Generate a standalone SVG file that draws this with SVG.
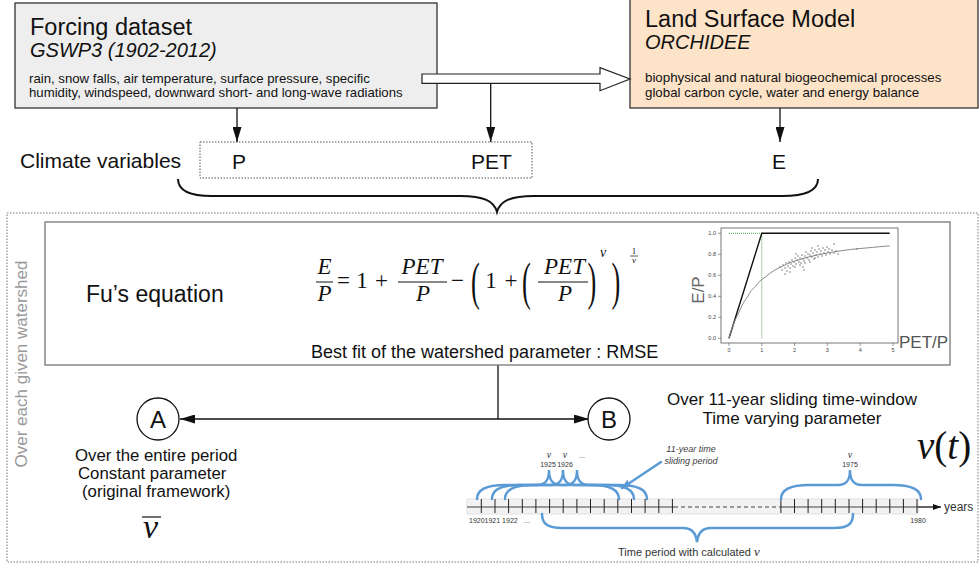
<svg xmlns="http://www.w3.org/2000/svg" width="980" height="565" viewBox="0 0 980 565">
<defs>
<style>
.sans{font-family:"Liberation Sans",Arial,sans-serif;fill:#111}
.serif{font-family:"Liberation Serif","Times New Roman",serif;fill:#111}
.it{font-style:italic}
.box{stroke:#333;stroke-width:1.3}
.blk{stroke:#111;stroke-width:1.3;fill:none}
.brace{stroke:#111;stroke-width:2;fill:none}
.blue{stroke:#5b9bd5;stroke-width:2.5;fill:none;stroke-linecap:round}
.tick{stroke:#222;stroke-width:1}
.tl{font-family:"Liberation Sans",Arial,sans-serif;font-size:7px;fill:#333}
.nu{font-family:"Liberation Serif","Times New Roman",serif;font-style:italic;font-size:10px;fill:#333}
.pl{font-family:"Liberation Sans",Arial,sans-serif;font-size:5.5px;fill:#444}
.dot{fill:#777}
.m{font-family:"Liberation Serif","Times New Roman",serif;font-style:italic;font-size:23px;fill:#111}
.mr{font-family:"Liberation Serif","Times New Roman",serif;font-size:23px;fill:#111}
.par{font-family:"Liberation Serif","Times New Roman",serif;font-size:48px;fill:#111}
</style>
<marker id="ah" viewBox="0 0 15 9" refX="15" refY="4.5" markerWidth="15" markerHeight="9" markerUnits="userSpaceOnUse" orient="auto-start-reverse"><path d="M0,0L15,4.5L0,9z" fill="#111"/></marker>
<marker id="bah" viewBox="0 0 10 8" refX="9" refY="4" markerWidth="10" markerHeight="8" markerUnits="userSpaceOnUse" orient="auto"><path d="M0,0L10,4L0,8z" fill="#5b9bd5"/></marker>
<marker id="tah" viewBox="0 0 8 6" refX="8" refY="3" markerWidth="8" markerHeight="6" markerUnits="userSpaceOnUse" orient="auto"><path d="M0,0L8,3L0,6z" fill="#111"/></marker>
</defs>
<rect x="0" y="0" width="980" height="565" fill="#fff"/>

<!-- outer dotted frame -->
<rect id="watershed-frame" x="7" y="213" width="971" height="349" fill="none" stroke="#777" stroke-width="1" stroke-dasharray="1.5 1.5"/>
<text class="sans" transform="translate(27,364) rotate(-90)" text-anchor="middle" font-size="17" style="fill:#999">Over each given watershed</text>

<g id="forcing">
<rect class="box" x="15" y="3" width="422" height="105" fill="#eeeeee"/>
<text class="sans" x="30" y="35" font-size="23.5">Forcing dataset</text>
<text class="sans it" x="30" y="57" font-size="20">GSWP3 (1902-2012)</text>
<text class="sans" x="29" y="83" font-size="13.2">rain, snow falls, air temperature, surface pressure, specific</text>
<text class="sans" x="29" y="97" font-size="13.2">humidity, windspeed, downward short- and long-wave radiations</text>
</g>

<g id="lsm">
<rect class="box" x="630" y="-1" width="348" height="109" fill="#fde3c8"/>
<text class="sans" x="645" y="27" font-size="23.5">Land Surface Model</text>
<text class="sans it" x="645" y="49" font-size="20">ORCHIDEE</text>
<text class="sans" x="645" y="82" font-size="13.3">biophysical and natural biogeochemical processes</text>
<text class="sans" x="645" y="97" font-size="13.3">global carbon cycle, water and energy balance</text>
</g>

<g id="climate">
<text class="sans" x="20" y="168" font-size="21">Climate variables</text>
<rect x="200" y="142" width="332" height="36" fill="none" stroke="#555" stroke-width="1" stroke-dasharray="1.5 1.5"/>
<text class="sans" x="232" y="169" font-size="21">P</text>
<text class="sans" x="471" y="169" font-size="21">PET</text>
<text class="sans" x="772" y="169" font-size="21">E</text>
</g>

<g id="connectors">
<polygon points="422,74 600,74 600,67.7 630,79 600,90.7 600,83.3 422,83.3" fill="#fff" stroke="#222" stroke-width="1.2"/>
<line class="blk" x1="237" y1="108" x2="237" y2="142" marker-end="url(#ah)"/>
<line class="blk" x1="490.7" y1="83.3" x2="490.7" y2="142" marker-end="url(#ah)"/>
<line class="blk" x1="780" y1="108" x2="780" y2="142" marker-end="url(#ah)"/>
<path class="brace" d="M178,179 C178,190 188,196 212,196 L460,196 C484,196 494,201 497,212 C500,201 510,196 534,196 L782,196 C806,196 818,190 818,179"/>
<line class="blk" x1="498" y1="365" x2="498" y2="419"/>
<line class="blk" x1="180" y1="419" x2="589" y2="419" marker-start="url(#ah)" marker-end="url(#ah)"/>
</g>

<g id="fu">
<rect x="45" y="222" width="905" height="143" fill="#fff" stroke="#777" stroke-width="1.3"/>
<text class="sans" x="86" y="302" font-size="23">Fu’s equation</text>
<!-- equation -->
<text class="m" x="324.5" y="274" text-anchor="middle">E</text>
<line x1="316" y1="282" x2="333" y2="282" stroke="#111" stroke-width="1"/>
<text class="m" x="324.5" y="301" text-anchor="middle">P</text>
<text class="mr" x="343.5" y="288" text-anchor="middle">=</text>
<text class="mr" x="362" y="288" text-anchor="middle">1</text>
<text class="mr" x="381.5" y="288" text-anchor="middle">+</text>
<text class="m" x="422" y="274" text-anchor="middle">PET</text>
<line x1="398" y1="282" x2="447" y2="282" stroke="#111" stroke-width="1"/>
<text class="m" x="423" y="301" text-anchor="middle">P</text>
<text class="mr" x="457.5" y="288" text-anchor="middle">−</text>
<text class="par" transform="translate(471,299) scale(0.55,1.1)">(</text>
<text class="mr" x="491" y="288" text-anchor="middle">1</text>
<text class="mr" x="511" y="288" text-anchor="middle">+</text>
<text class="par" transform="translate(522,299) scale(0.55,1.1)">(</text>
<text class="m" x="564.5" y="274" text-anchor="middle">PET</text>
<line x1="538" y1="282" x2="588" y2="282" stroke="#111" stroke-width="1"/>
<text class="m" x="565" y="301" text-anchor="middle">P</text>
<text class="par" transform="translate(587.5,299) scale(0.55,1.1)">)</text>
<text class="m" x="600" y="257" style="font-size:14px">ν</text>
<text class="par" transform="translate(611.5,299) scale(0.55,1.1)">)</text>
<text class="mr" x="634" y="254" text-anchor="middle" style="font-size:9px">1</text>
<line x1="630" y1="256" x2="638" y2="256" stroke="#111" stroke-width="0.7"/>
<text class="m" x="634" y="263" text-anchor="middle" style="font-size:9px">ν</text>
<text class="sans" x="311" y="358" font-size="18">Best fit of the watershed parameter : RMSE</text>

<!-- inset plot -->
<g id="plot">
<rect x="721" y="228" width="177" height="115" fill="none" stroke="#555" stroke-width="0.8"/>
<g stroke="#555" stroke-width="0.6">
<line x1="718" y1="233.3" x2="721" y2="233.3"/><line x1="718" y1="254.3" x2="721" y2="254.3"/><line x1="718" y1="275.3" x2="721" y2="275.3"/><line x1="718" y1="296.3" x2="721" y2="296.3"/><line x1="718" y1="317.3" x2="721" y2="317.3"/><line x1="718" y1="338.3" x2="721" y2="338.3"/>
<line x1="729" y1="343" x2="729" y2="346"/><line x1="761.8" y1="343" x2="761.8" y2="346"/><line x1="794.6" y1="343" x2="794.6" y2="346"/><line x1="827.4" y1="343" x2="827.4" y2="346"/><line x1="860.2" y1="343" x2="860.2" y2="346"/><line x1="893" y1="343" x2="893" y2="346"/>
</g>
<g class="pl" text-anchor="end">
<text x="716" y="235.3">1.0</text><text x="716" y="256.3">0.8</text><text x="716" y="277.3">0.6</text><text x="716" y="298.3">0.4</text><text x="716" y="319.3">0.2</text><text x="716" y="340.3">0.0</text>
</g>
<g class="pl" text-anchor="middle">
<text x="729" y="352">0</text><text x="761.8" y="352">1</text><text x="794.6" y="352">2</text><text x="827.4" y="352">3</text><text x="860.2" y="352">4</text><text x="893" y="352">5</text>
</g>
<polyline points="729,233.3 761.8,233.3" fill="none" stroke="#3a9a3a" stroke-width="0.9" stroke-dasharray="1 1"/>
<polyline points="761.8,233.3 761.8,338.3" fill="none" stroke="#3a9a3a" stroke-width="0.9" stroke-dasharray="1 1"/>
<polyline points="729,338.3 761.8,233.3 889.7,233.3" fill="none" stroke="#111" stroke-width="1.4"/>
<path d="M729,338.3 C731,330 734,322 737.2,315.9 S742,304 745.4,299.8 S750,291 753.6,288.1 S758,282 761.8,279.5 S772,271 778.2,268.2 S788,263 794.6,261.1 S804,258 811,256.4 S822,254 827.4,253 S848,249.5 860.2,248.5 S880,246.5 889.7,245.9" fill="none" stroke="#888" stroke-width="1"/>
<g class="dot">
<circle cx="780" cy="267" r="0.8"/><circle cx="782" cy="270" r="0.8"/><circle cx="783" cy="265" r="0.8"/><circle cx="785" cy="268" r="0.8"/><circle cx="786" cy="263" r="0.8"/><circle cx="787" cy="271" r="0.8"/><circle cx="788" cy="266" r="0.8"/><circle cx="789" cy="262" r="0.8"/><circle cx="790" cy="268" r="0.8"/><circle cx="791" cy="264" r="0.8"/><circle cx="792" cy="260" r="0.8"/><circle cx="793" cy="266" r="0.8"/><circle cx="794" cy="262" r="0.8"/><circle cx="795" cy="258" r="0.8"/><circle cx="796" cy="264" r="0.8"/><circle cx="797" cy="260" r="0.8"/><circle cx="798" cy="256" r="0.8"/><circle cx="799" cy="262" r="0.8"/><circle cx="800" cy="258" r="0.8"/><circle cx="801" cy="263" r="0.8"/><circle cx="802" cy="255" r="0.8"/><circle cx="803" cy="259" r="0.8"/><circle cx="804" cy="261" r="0.8"/><circle cx="805" cy="256" r="0.8"/><circle cx="806" cy="252" r="0.8"/><circle cx="807" cy="258" r="0.8"/><circle cx="808" cy="254" r="0.8"/><circle cx="809" cy="260" r="0.8"/><circle cx="810" cy="255" r="0.8"/><circle cx="811" cy="251" r="0.8"/><circle cx="812" cy="257" r="0.8"/><circle cx="813" cy="253" r="0.8"/><circle cx="814" cy="259" r="0.8"/><circle cx="815" cy="250" r="0.8"/><circle cx="816" cy="255" r="0.8"/><circle cx="817" cy="252" r="0.8"/><circle cx="818" cy="257" r="0.8"/><circle cx="819" cy="249" r="0.8"/><circle cx="820" cy="254" r="0.8"/><circle cx="821" cy="251" r="0.8"/><circle cx="822" cy="256" r="0.8"/><circle cx="823" cy="248" r="0.8"/><circle cx="824" cy="253" r="0.8"/><circle cx="825" cy="250" r="0.8"/><circle cx="826" cy="255" r="0.8"/><circle cx="827" cy="247" r="0.8"/><circle cx="828" cy="252" r="0.8"/><circle cx="829" cy="249" r="0.8"/><circle cx="830" cy="254" r="0.8"/><circle cx="832" cy="250" r="0.8"/><circle cx="834" cy="253" r="0.8"/><circle cx="836" cy="251" r="0.8"/><circle cx="838" cy="254" r="0.8"/><circle cx="795" cy="267" r="0.8"/><circle cx="800" cy="265" r="0.8"/><circle cx="790" cy="272" r="0.8"/><circle cx="785" cy="274" r="0.8"/><circle cx="805" cy="263" r="0.8"/><circle cx="810" cy="262" r="0.8"/><circle cx="815" cy="258" r="0.8"/><circle cx="803" cy="267" r="0.8"/><circle cx="834" cy="244" r="0.8"/><circle cx="857" cy="249" r="0.8"/><circle cx="804" cy="270" r="0.8"/><circle cx="812" cy="248" r="0.8"/><circle cx="818" cy="246" r="0.8"/><circle cx="796" cy="254" r="0.8"/>
</g>
<text class="sans" transform="translate(704,290) rotate(-90)" text-anchor="middle" font-size="17" style="fill:#666">E/P</text>
<text class="sans" x="899" y="348" font-size="17" style="fill:#555">PET/P</text>
</g>
</g>

<g id="caseA">
<circle cx="158" cy="419" r="21" fill="#fff" stroke="#111" stroke-width="1.3"/>
<text class="sans" x="158" y="427.5" text-anchor="middle" font-size="24">A</text>
<text class="sans" x="75" y="461" font-size="16.8">Over the entire period</text>
<text class="sans" x="78" y="479" font-size="16.8">Constant parameter</text>
<text class="sans" x="82" y="497" font-size="16.8">(original framework)</text>
<line x1="142" y1="517" x2="161" y2="517" stroke="#111" stroke-width="1.2"/>
<text class="serif it" x="143" y="538" font-size="34">ν</text>
</g>

<g id="caseB">
<circle cx="609" cy="419" r="21" fill="#fff" stroke="#111" stroke-width="1.3"/>
<text class="sans" x="609" y="427.5" text-anchor="middle" font-size="24">B</text>
<text class="sans" x="792" y="405" text-anchor="middle" font-size="17">Over 11-year sliding time-window</text>
<text class="sans" x="792" y="424" text-anchor="middle" font-size="17">Time varying parameter</text>
<text class="serif" x="917" y="459" font-size="39"><tspan font-style="italic">ν</tspan>(<tspan font-style="italic">t</tspan>)</text>
</g>

<g id="timeline">
<rect x="467" y="499" width="451" height="15" fill="#f2f2f2" stroke="#e2e2e2" stroke-width="1"/>
<line x1="467" y1="507" x2="674" y2="507" stroke="#999" stroke-width="2"/>
<line x1="674" y1="507" x2="781" y2="507" stroke="#999" stroke-width="2" stroke-dasharray="4 3"/>
<line x1="781" y1="507" x2="918" y2="507" stroke="#999" stroke-width="2"/>
<line x1="918" y1="507" x2="941" y2="507" stroke="#111" stroke-width="1.3" marker-end="url(#tah)"/>
<g class="tick">
<line x1="481.3" y1="499" x2="481.3" y2="513"/><line x1="495" y1="499" x2="495" y2="513"/><line x1="508.6" y1="499" x2="508.6" y2="513"/><line x1="522.3" y1="499" x2="522.3" y2="513"/><line x1="535.9" y1="499" x2="535.9" y2="513"/><line x1="549.6" y1="499" x2="549.6" y2="513"/><line x1="563.2" y1="499" x2="563.2" y2="513"/><line x1="576.9" y1="499" x2="576.9" y2="513"/><line x1="590.5" y1="499" x2="590.5" y2="513"/><line x1="604.2" y1="499" x2="604.2" y2="513"/><line x1="617.8" y1="499" x2="617.8" y2="513"/><line x1="631.5" y1="499" x2="631.5" y2="513"/><line x1="645.1" y1="499" x2="645.1" y2="513"/><line x1="658.8" y1="499" x2="658.8" y2="513"/><line x1="672.4" y1="499" x2="672.4" y2="513"/>
<line x1="780.9" y1="499" x2="780.9" y2="513"/><line x1="794.5" y1="499" x2="794.5" y2="513"/><line x1="808.1" y1="499" x2="808.1" y2="513"/><line x1="821.7" y1="499" x2="821.7" y2="513"/><line x1="835.3" y1="499" x2="835.3" y2="513"/><line x1="849" y1="499" x2="849" y2="513"/><line x1="862.6" y1="499" x2="862.6" y2="513"/><line x1="876.2" y1="499" x2="876.2" y2="513"/><line x1="889.8" y1="499" x2="889.8" y2="513"/><line x1="903.4" y1="499" x2="903.4" y2="513"/><line x1="917" y1="499" x2="917" y2="513"/>
</g>
<text class="sans" x="944" y="511" font-size="12" style="fill:#333">years</text>
<text class="tl" x="469" y="523">19201921 1922</text>
<text class="tl" x="524" y="523" style="fill:#333">...</text>
<text class="tl" x="918" y="523" text-anchor="middle">1980</text>
<!-- window braces -->
<path class="blue" d="M477,499 C477,489 487,485 505,485 L537,485 C545,485 549,481 549,470 C549,481 553,485 561,485 L591,485 C609,485 619,489 619,499"/>
<path class="blue" d="M492,499 C492,489 502,485 520,485 L551,485 C559,485 563,481 563,470 C563,481 567,485 575,485 L606,485 C624,485 634,489 634,499"/>
<path class="blue" d="M505,499 C505,489 515,485 533,485 L565,485 C573,485 577,481 577,470 C577,481 581,485 589,485 L619,485 C637,485 647,489 647,499"/>
<path class="blue" d="M781,499 C781,489 791,485 809,485 L838,485 C846,485 850,481 850,470 C850,481 854,485 862,485 L893,485 C911,485 921,489 921,499"/>
<text class="nu" x="549" y="458" text-anchor="middle">ν</text>
<text class="nu" x="565" y="458" text-anchor="middle">ν</text>
<text class="tl" x="582" y="458" text-anchor="middle">...</text>
<text class="tl" x="548" y="467" text-anchor="middle">1925</text>
<text class="tl" x="565" y="467" text-anchor="middle">1926</text>
<text class="nu" x="850" y="458" text-anchor="middle">ν</text>
<text class="tl" x="850" y="467" text-anchor="middle">1975</text>
<text class="sans it" x="691" y="452" text-anchor="middle" font-size="9" style="fill:#404040">11-year time</text>
<text class="sans it" x="691" y="464" text-anchor="middle" font-size="9" style="fill:#404040">sliding period</text>
<line class="blue" x1="661" y1="462" x2="622" y2="488" marker-end="url(#bah)"/>
<!-- calculated period brace -->
<path class="blue" d="M542,514 C542,524 548,528 562,528 L683,528 C692,528 696,533 697,542 C698,533 702,528 711,528 L834,528 C848,528 853,524 853,514"/>
<text class="sans" x="618" y="556" font-size="11" style="fill:#333">Time period with calculated <tspan font-family="Liberation Serif, serif" font-style="italic" font-size="13">ν</tspan></text>
</g>
</svg>
